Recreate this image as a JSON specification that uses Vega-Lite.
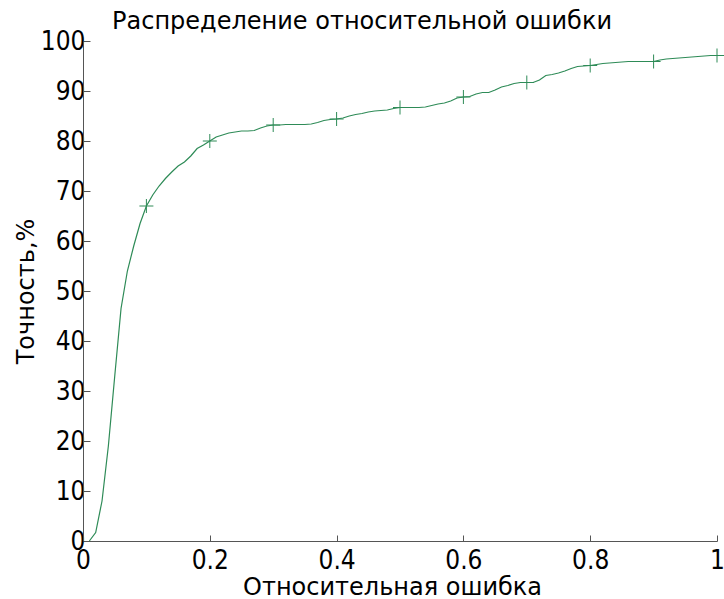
{
  "$schema": "https://vega.github.io/schema/vega-lite/v6.json",
  "autosize": {"type": "none"},
  "padding": {"left": 83, "top": 41, "right": 7, "bottom": 58},
  "width": 634,
  "height": 500,
  "background": "white",
  "title": {"text": "Распределение относительной ошибки", "anchor": "start", "frame": "group", "dx": 29, "offset": -25, "baseline": "alphabetic", "fontSize": 24, "font": "DejaVu Sans", "fontWeight": "normal", "color": "black"},
  "config": {
    "view": {"stroke": null},
    "axis": {"grid": false, "domainColor": "#555", "domainWidth": 1, "tickColor": "#555", "tickWidth": 1, "labelFont": "DejaVu Sans Condensed, DejaVu Sans", "labelFontSize": 26, "labelColor": "black", "titleFont": "DejaVu Sans", "titleFontSize": 24, "titleFontWeight": "normal", "titleColor": "black", "labelFlush": false, "labelOverlap": false}
  },
  "datasets": {
    "curve": [
      {"err": 0.01, "acc": 0}, {"err": 0.02, "acc": 1.7}, {"err": 0.03, "acc": 8}, {"err": 0.04, "acc": 19}, {"err": 0.05, "acc": 32.9},
      {"err": 0.06, "acc": 46.5}, {"err": 0.07, "acc": 54}, {"err": 0.08, "acc": 59}, {"err": 0.09, "acc": 63.5}, {"err": 0.1, "acc": 67},
      {"err": 0.11, "acc": 69.2}, {"err": 0.12, "acc": 71}, {"err": 0.13, "acc": 72.5}, {"err": 0.14, "acc": 73.8}, {"err": 0.15, "acc": 75},
      {"err": 0.16, "acc": 75.8}, {"err": 0.17, "acc": 77}, {"err": 0.18, "acc": 78.5}, {"err": 0.19, "acc": 79.2}, {"err": 0.2, "acc": 80},
      {"err": 0.21, "acc": 80.8}, {"err": 0.22, "acc": 81.2}, {"err": 0.23, "acc": 81.6}, {"err": 0.24, "acc": 81.8}, {"err": 0.25, "acc": 82},
      {"err": 0.26, "acc": 82}, {"err": 0.27, "acc": 82.1}, {"err": 0.28, "acc": 82.6}, {"err": 0.29, "acc": 83}, {"err": 0.3, "acc": 83.2},
      {"err": 0.31, "acc": 83.2}, {"err": 0.32, "acc": 83.3}, {"err": 0.33, "acc": 83.3}, {"err": 0.34, "acc": 83.3}, {"err": 0.35, "acc": 83.3},
      {"err": 0.36, "acc": 83.4}, {"err": 0.37, "acc": 83.7}, {"err": 0.38, "acc": 84.1}, {"err": 0.39, "acc": 84.3}, {"err": 0.4, "acc": 84.4},
      {"err": 0.41, "acc": 84.6}, {"err": 0.42, "acc": 85}, {"err": 0.43, "acc": 85.3}, {"err": 0.44, "acc": 85.5}, {"err": 0.45, "acc": 85.8},
      {"err": 0.46, "acc": 86}, {"err": 0.47, "acc": 86.1}, {"err": 0.48, "acc": 86.2}, {"err": 0.49, "acc": 86.5}, {"err": 0.5, "acc": 86.7},
      {"err": 0.51, "acc": 86.7}, {"err": 0.52, "acc": 86.7}, {"err": 0.53, "acc": 86.7}, {"err": 0.54, "acc": 86.8}, {"err": 0.55, "acc": 87.1},
      {"err": 0.56, "acc": 87.4}, {"err": 0.57, "acc": 87.6}, {"err": 0.58, "acc": 88}, {"err": 0.59, "acc": 88.6}, {"err": 0.6, "acc": 88.8},
      {"err": 0.61, "acc": 88.9}, {"err": 0.62, "acc": 89.4}, {"err": 0.63, "acc": 89.7}, {"err": 0.64, "acc": 89.7}, {"err": 0.65, "acc": 90.2},
      {"err": 0.66, "acc": 90.8}, {"err": 0.67, "acc": 91.1}, {"err": 0.68, "acc": 91.5}, {"err": 0.69, "acc": 91.7}, {"err": 0.7, "acc": 91.7},
      {"err": 0.71, "acc": 91.7}, {"err": 0.72, "acc": 92.2}, {"err": 0.73, "acc": 93.1}, {"err": 0.74, "acc": 93.3}, {"err": 0.75, "acc": 93.6},
      {"err": 0.76, "acc": 94}, {"err": 0.77, "acc": 94.5}, {"err": 0.78, "acc": 94.9}, {"err": 0.79, "acc": 95}, {"err": 0.8, "acc": 95.1},
      {"err": 0.81, "acc": 95.3}, {"err": 0.82, "acc": 95.5}, {"err": 0.83, "acc": 95.6}, {"err": 0.84, "acc": 95.7}, {"err": 0.85, "acc": 95.8},
      {"err": 0.86, "acc": 95.9}, {"err": 0.87, "acc": 95.9}, {"err": 0.88, "acc": 95.9}, {"err": 0.89, "acc": 95.9}, {"err": 0.9, "acc": 95.9},
      {"err": 0.91, "acc": 96.2}, {"err": 0.92, "acc": 96.4}, {"err": 0.93, "acc": 96.5}, {"err": 0.94, "acc": 96.6}, {"err": 0.95, "acc": 96.7},
      {"err": 0.96, "acc": 96.8}, {"err": 0.97, "acc": 96.9}, {"err": 0.98, "acc": 97}, {"err": 0.99, "acc": 97.1}, {"err": 1.0, "acc": 97.1}
    ],
    "markers": [
      {"err": 0.1, "acc": 67}, {"err": 0.2, "acc": 80}, {"err": 0.3, "acc": 83.2}, {"err": 0.4, "acc": 84.4}, {"err": 0.5, "acc": 86.7},
      {"err": 0.6, "acc": 88.8}, {"err": 0.7, "acc": 91.7}, {"err": 0.8, "acc": 95.1}, {"err": 0.9, "acc": 95.9}, {"err": 1.0, "acc": 97.1}
    ]
  },
  "encoding": {
    "x": {"field": "err", "type": "quantitative", "scale": {"domain": [0, 1], "nice": false, "zero": false},
      "axis": {"title": "Относительная ошибка", "values": [0, 0.2, 0.4, 0.6, 0.8, 1], "format": "~g", "tickSize": -6, "labelPadding": 12, "titleX": 309, "titleY": 53, "titleBaseline": "alphabetic", "titleAlign": "center", "titleAngle": 0}},
    "y": {"field": "acc", "type": "quantitative", "scale": {"domain": [0, 100], "nice": false},
      "axis": {"title": "Точность,%", "values": [0, 10, 20, 30, 40, 50, 60, 70, 80, 90, 100], "tickSize": -7, "labelPadding": 5, "titleX": -50, "titleY": 250, "titleBaseline": "alphabetic", "titleAlign": "center", "titleAngle": -90}}
  },
  "layer": [
    {"data": {"name": "curve"}, "mark": {"type": "line", "color": "#2e8b57", "strokeWidth": 1.2, "clip": false}},
    {"data": {"name": "markers"}, "mark": {"type": "point", "shape": "M-1,0H1M0,-1V1", "filled": false, "stroke": "#2e8b57", "strokeWidth": 1, "size": 196, "opacity": 1}}
  ]
}
